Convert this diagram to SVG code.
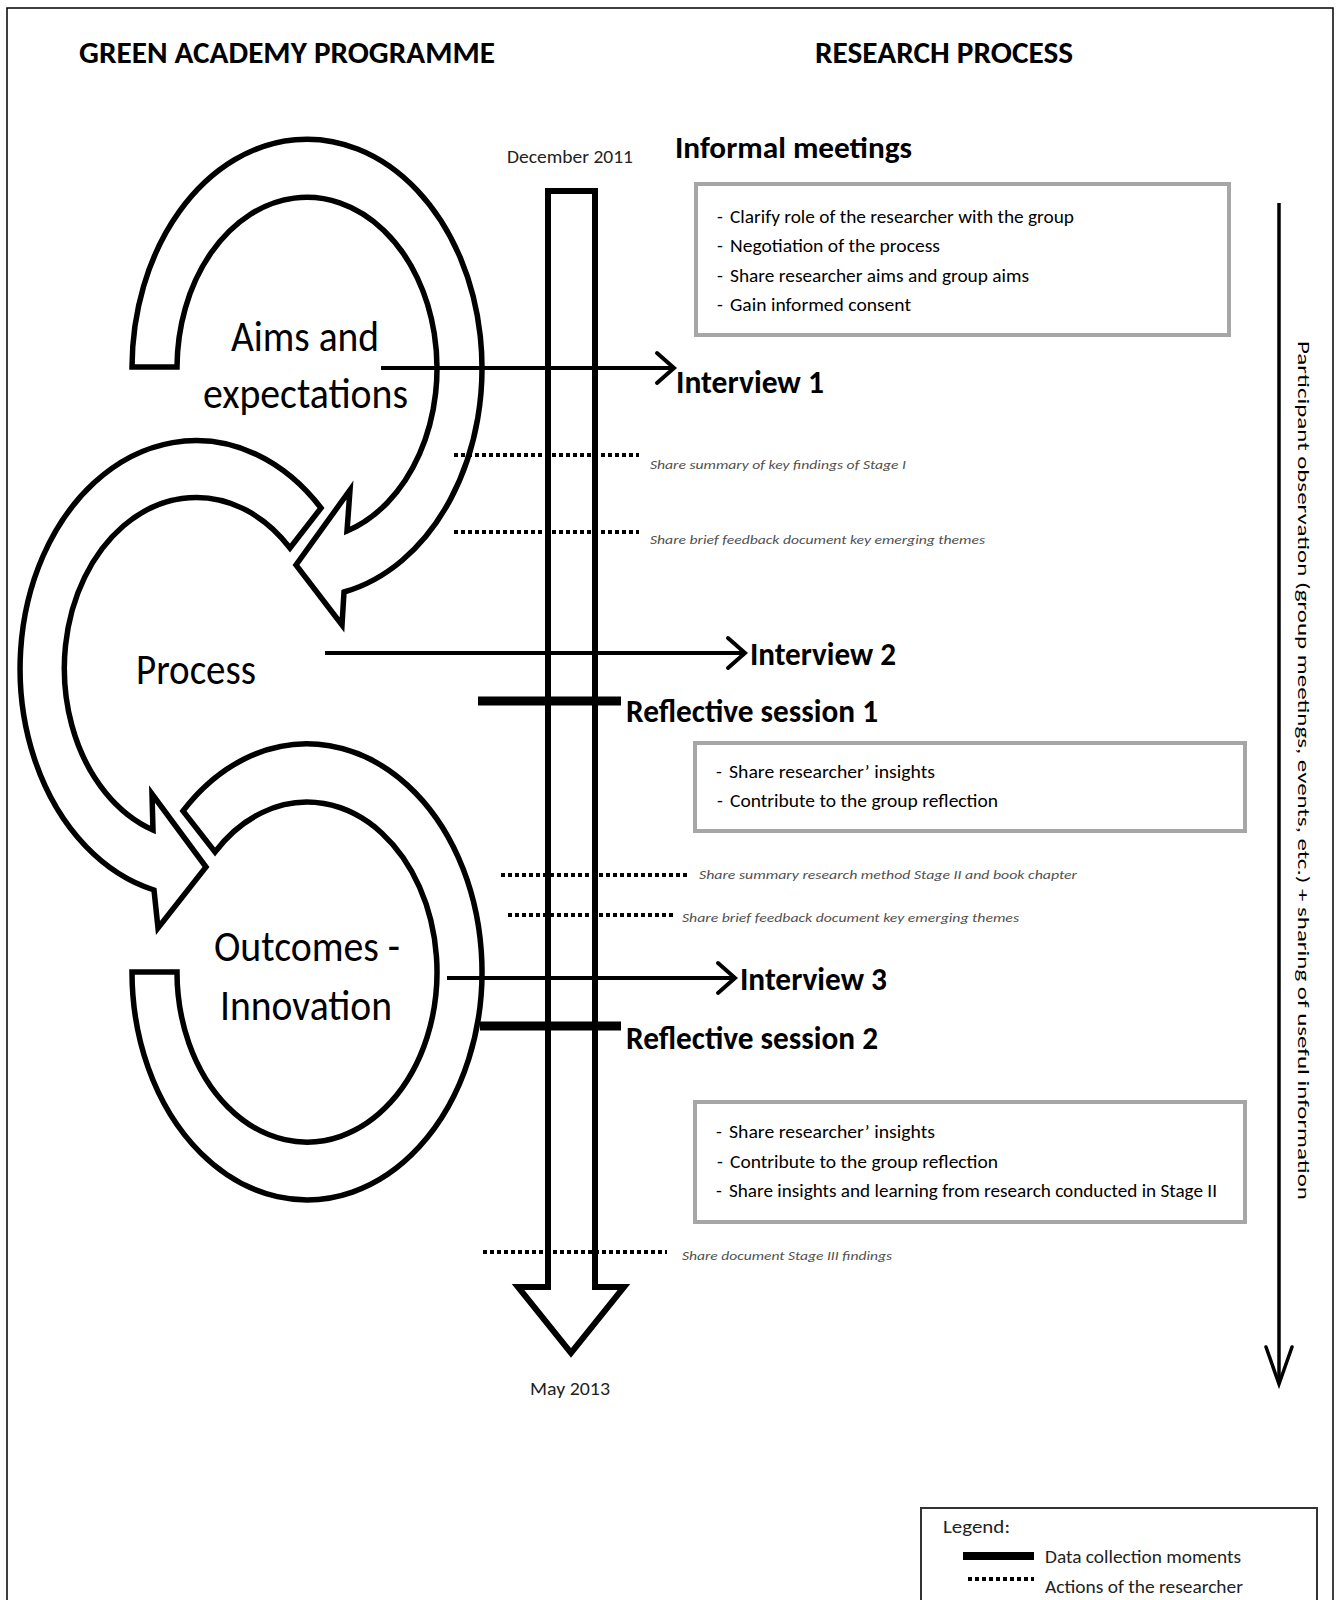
<svg xmlns="http://www.w3.org/2000/svg" width="1341" height="1600" viewBox="0 0 1341 1600">
<style>
  text { font-family: "Carlito", "Liberation Sans Narrow", "Liberation Sans", Arial, sans-serif; fill: #000; }
  .hdr { font-size: 31px; font-weight: bold; }
  .big { font-size: 33px; font-weight: bold; }
  .circ { font-size: 44px; }
  .box { font-size: 19px; }
  .act { font-size: 13px; font-style: italic; fill: #505050; }
  .date { font-size: 18px; fill: #222; }
  .ring { fill: #fff; stroke: #000; stroke-width: 5.5; stroke-linejoin: miter; }
  .gbox { fill: #fff; stroke: #a6a6a6; stroke-width: 4; }
  .line { stroke: #000; stroke-width: 4; fill: none; }
  .head { stroke: #000; stroke-width: 4; fill: none; stroke-linecap: round; stroke-linejoin: miter; }
  .thick { stroke: #000; stroke-width: 9; }
  .dots { stroke: #000; stroke-width: 4; stroke-dasharray: 4 3; }
</style>
<rect x="7" y="8" width="1326" height="1610" fill="#fff" stroke="#000" stroke-width="1.5"/>

<g id="titles">
  <text class="hdr" x="79" y="63" textLength="416" lengthAdjust="spacingAndGlyphs">GREEN ACADEMY PROGRAMME</text>
  <text class="hdr" x="815" y="63" textLength="258" lengthAdjust="spacingAndGlyphs">RESEARCH PROCESS</text>
</g>

<g id="aims">
  <path class="ring" d="M132,367 A175,229 0 1 1 344,592 L342,625 L296,565 L350,490 L347,531 A130,171 0 1 0 177,367 Z"/>
  <text class="circ" x="231" y="351" textLength="148" lengthAdjust="spacingAndGlyphs">Aims and</text>
  <text class="circ" x="203" y="408" textLength="205" lengthAdjust="spacingAndGlyphs">expectations</text>
</g>

<g id="process">
  <path class="ring" d="M321,508 A176,228 0 1 0 154,890 L158,928 L206,867 L152,794 L153,830 A132,171 0 1 1 290,548 Z"/>
  <text class="circ" x="136" y="684" textLength="120" lengthAdjust="spacingAndGlyphs">Process</text>
</g>

<g id="outcomes">
  <path class="ring" d="M183,811 A175,228 0 1 1 132,972 L177,972 A130,170 0 1 0 215,852 Z"/>
  <text class="circ" x="214" y="961" textLength="186" lengthAdjust="spacingAndGlyphs">Outcomes -</text>
  <text class="circ" x="220" y="1020" textLength="172" lengthAdjust="spacingAndGlyphs">Innovation</text>
</g>

<g id="timeline">
  <path d="M548,191 L595,191 L595,1287 L624,1287 L571,1353 L518,1287 L548,1287 Z" fill="#fff" stroke="#000" stroke-width="6" stroke-linejoin="miter"/>
  <text class="date" x="507" y="163" textLength="126" lengthAdjust="spacingAndGlyphs">December 2011</text>
  <text class="date" x="530" y="1395" textLength="80" lengthAdjust="spacingAndGlyphs">May 2013</text>
</g>

<g id="connectors">
  <line class="line" x1="381" y1="368" x2="673" y2="368"/>
  <polyline class="head" points="657,353 674,368 657,383"/>
  <line class="line" x1="325" y1="653" x2="744" y2="653"/>
  <polyline class="head" points="728,638 745,653 728,668"/>
  <line class="line" x1="447" y1="978" x2="734" y2="978"/>
  <polyline class="head" points="718,963 735,978 718,993"/>
  <line class="thick" x1="478" y1="701" x2="621" y2="701"/>
  <line class="thick" x1="480" y1="1026" x2="621" y2="1026"/>
  <line class="dots" x1="454" y1="455" x2="639" y2="455"/>
  <line class="dots" x1="454" y1="532" x2="639" y2="532"/>
  <line class="dots" x1="501" y1="875" x2="690" y2="875"/>
  <line class="dots" x1="508" y1="915" x2="676" y2="915"/>
  <line class="dots" x1="483" y1="1252" x2="667" y2="1252"/>
  <line x1="1279" y1="203" x2="1279" y2="1383" stroke="#000" stroke-width="3.5"/>
  <polyline points="1266,1347 1279,1384 1292,1347" fill="none" stroke="#000" stroke-width="3.5" stroke-linecap="round"/>
</g>

<g id="informal-meetings">
  <text class="hdr" x="675" y="158" textLength="237" lengthAdjust="spacingAndGlyphs">Informal meetings</text>
  <rect class="gbox" x="696" y="184" width="533" height="151"/>
  <text class="box" x="717" y="223">-</text>
  <text class="box" x="730" y="223" textLength="344" lengthAdjust="spacingAndGlyphs">Clarify role of the researcher with the group</text>
  <text class="box" x="717" y="252">-</text>
  <text class="box" x="730" y="252" textLength="210" lengthAdjust="spacingAndGlyphs">Negotiation of the process</text>
  <text class="box" x="717" y="282">-</text>
  <text class="box" x="730" y="282" textLength="299" lengthAdjust="spacingAndGlyphs">Share researcher aims and group aims</text>
  <text class="box" x="717" y="311">-</text>
  <text class="box" x="730" y="311" textLength="181" lengthAdjust="spacingAndGlyphs">Gain informed consent</text>
</g>

<g id="interview-1">
  <text class="big" x="676" y="393" textLength="148" lengthAdjust="spacingAndGlyphs">Interview 1</text>
</g>

<g id="action-1">
  <text class="act" x="650" y="469" textLength="256" lengthAdjust="spacingAndGlyphs">Share summary  of key findings  of Stage I</text>
</g>
<g id="action-2">
  <text class="act" x="650" y="544" textLength="335" lengthAdjust="spacingAndGlyphs">Share brief feedback  document  key emerging  themes</text>
</g>

<g id="interview-2">
  <text class="big" x="750" y="665" textLength="146" lengthAdjust="spacingAndGlyphs">Interview 2</text>
</g>

<g id="reflective-session-1">
  <text class="big" x="626" y="722" textLength="252" lengthAdjust="spacingAndGlyphs">Reflective session 1</text>
  <rect class="gbox" x="695" y="743" width="550" height="88"/>
  <text class="box" x="716" y="778">-</text>
  <text class="box" x="729" y="778" textLength="206" lengthAdjust="spacingAndGlyphs">Share researcher’ insights</text>
  <text class="box" x="717" y="807">-</text>
  <text class="box" x="730" y="807" textLength="268" lengthAdjust="spacingAndGlyphs">Contribute to the group reflection</text>
</g>

<g id="action-3">
  <text class="act" x="699" y="879" textLength="378" lengthAdjust="spacingAndGlyphs">Share summary  research  method Stage  II and book  chapter</text>
</g>
<g id="action-4">
  <text class="act" x="682" y="922" textLength="337" lengthAdjust="spacingAndGlyphs">Share brief feedback  document  key emerging themes</text>
</g>

<g id="interview-3">
  <text class="big" x="740" y="990" textLength="147" lengthAdjust="spacingAndGlyphs">Interview 3</text>
</g>

<g id="reflective-session-2">
  <text class="big" x="626" y="1049" textLength="252" lengthAdjust="spacingAndGlyphs">Reflective session 2</text>
  <rect class="gbox" x="695" y="1102" width="550" height="120"/>
  <text class="box" x="716" y="1138">-</text>
  <text class="box" x="729" y="1138" textLength="206" lengthAdjust="spacingAndGlyphs">Share researcher’ insights</text>
  <text class="box" x="717" y="1168">-</text>
  <text class="box" x="730" y="1168" textLength="268" lengthAdjust="spacingAndGlyphs">Contribute to the group reflection</text>
  <text class="box" x="716" y="1197">-</text>
  <text class="box" x="729" y="1197" textLength="488" lengthAdjust="spacingAndGlyphs">Share insights and learning from research conducted in Stage II</text>
</g>

<g id="action-5">
  <text class="act" x="682" y="1260" textLength="210" lengthAdjust="spacingAndGlyphs">Share document  Stage III findings</text>
</g>

<g id="participant-observation">
  <text transform="translate(1298,341) rotate(90)" x="0" y="0" font-size="17" textLength="859" lengthAdjust="spacingAndGlyphs">Participant observation (group meetings, events, etc.) + sharing of  useful information</text>
</g>

<g id="legend">
  <rect x="921" y="1508" width="396" height="120" fill="#fff" stroke="#333" stroke-width="2"/>
  <text class="date" x="943" y="1533" textLength="67" lengthAdjust="spacingAndGlyphs">Legend:</text>
  <line x1="963" y1="1556" x2="1034" y2="1556" stroke="#000" stroke-width="8"/>
  <text class="date" x="1045" y="1563" textLength="196" lengthAdjust="spacingAndGlyphs">Data collection moments</text>
  <line class="dots" x1="968" y1="1579" x2="1034" y2="1579"/>
  <text class="date" x="1045" y="1593" textLength="198" lengthAdjust="spacingAndGlyphs">Actions of the researcher</text>
</g>
</svg>
